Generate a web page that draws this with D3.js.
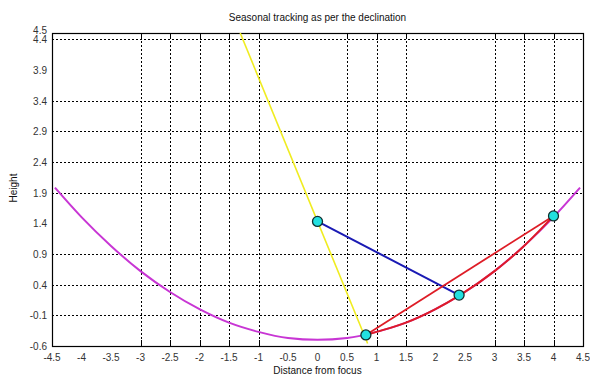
<!DOCTYPE html>
<html>
<head>
<meta charset="utf-8">
<script src="https://cdn.jsdelivr.net/npm/d3@7"></script>
<style>
  body { margin: 0; background: #fff; }
  svg { width: 590px; height: 376px; display: block; }
  text { font-family: "Liberation Sans", Arial, sans-serif; }
</style>
</head>
<body>
<svg></svg>
<script>
// tick labels and grid positions
const xTicks = [-4.5, -4, -3.5, -3, -2.5, -2, -1.5, -1, -0.5, 0, 0.5, 1, 1.5, 2, 2.5, 3, 3.5, 4, 4.5];
const yTicks = [-0.6, -0.1, 0.4, 0.9, 1.4, 1.9, 2.4, 2.9, 3.4, 3.9, 4.4, 4.5];
const xGrid = [-3, -2.5, -2, -1.5, -1, 0.5, 1, 1.5, 3, 3.5, 4];
const yGrid = [-0.1, 0.4, 0.9, 1.9, 2.4, 2.9, 3.4, 4.4];

// reflector (magenta)
const mirrorX = [-4.45, -4, -3.5, -3, -2.5, -2, -1.5, -1, -0.5, 0, 0.5, 1, 1.5, 2, 2.5, 3, 3.5, 4, 4.45];
const mirrorY = [1.98, 1.50, 1.03, 0.62, 0.28, 0.00, -0.22, -0.37, -0.47, -0.50, -0.47, -0.37, -0.22, 0.00, 0.28, 0.62, 1.03, 1.50, 1.98];

// red arc on the reflector and red chord
const arcX = [0.82, 1, 1.5, 2, 2.4, 3, 3.5, 4];
const arcY = [-0.42, -0.37, -0.22, 0.00, 0.22, 0.62, 1.03, 1.52];
const chordX = [0.82, 4];
const chordY = [-0.42, 1.52];

// sun ray (yellow) and blue segment
const rayX = [-1.31, 0.85];
const rayY = [4.5, -0.56];
const blueX = [0, 2.4];
const blueY = [1.43, 0.23];

// marked points
const dotX = [0, 0.82, 2.4, 4];
const dotY = [1.43, -0.42, 0.23, 1.52];

const zip = (xs, ys) => xs.map((x, i) => ({x: x, y: ys[i]}));

function drawGraph() {
    const svg = d3.select("svg");
    svg.selectAll('*').remove();

    const attr_area = {
        left: 52,
        right: 583,
        top: 33,
        bottom: 346
    };

    const scX = d3.scaleLinear().domain([-4.5, 4.5]).range([attr_area.left, attr_area.right]);
    const scY = d3.scaleLinear().domain([-0.6, 4.5]).range([attr_area.bottom, attr_area.top]);

    createAxis(svg, scX, scY, attr_area);
    createLines(svg, scX, scY);
    createTexts(svg, attr_area);
}

function createAxis(svg, scX, scY, attr_area) {
    const grid = svg.append("g")
        .attr("stroke", "#000")
        .attr("stroke-width", 1)
        .attr("stroke-dasharray", "2,2");

    grid.selectAll(".gx")
        .data(xGrid)
        .enter()
        .append("line")
        .attr("x1", d => Math.round(scX(d)) + 0.5)
        .attr("x2", d => Math.round(scX(d)) + 0.5)
        .attr("y1", attr_area.top)
        .attr("y2", attr_area.bottom);

    grid.selectAll(".gy")
        .data(yGrid)
        .enter()
        .append("line")
        .attr("x1", attr_area.left)
        .attr("x2", attr_area.right)
        .attr("y1", d => Math.round(scY(d)) + 0.5)
        .attr("y2", d => Math.round(scY(d)) + 0.5);

    // inner tick marks, top and bottom
    const ticks = svg.append("g").attr("stroke", "#000").attr("stroke-width", 1);
    ticks.selectAll(".tb")
        .data(xGrid)
        .enter()
        .append("line")
        .attr("x1", d => Math.round(scX(d)) + 0.5)
        .attr("x2", d => Math.round(scX(d)) + 0.5)
        .attr("y1", attr_area.bottom)
        .attr("y2", attr_area.bottom - 6);
    ticks.selectAll(".tt")
        .data(xGrid)
        .enter()
        .append("line")
        .attr("x1", d => Math.round(scX(d)) + 0.5)
        .attr("x2", d => Math.round(scX(d)) + 0.5)
        .attr("y1", attr_area.top)
        .attr("y2", attr_area.top + 5);

    // box
    svg.append("rect")
        .attr("x", attr_area.left + 0.5)
        .attr("y", attr_area.top + 0.5)
        .attr("width", attr_area.right - attr_area.left)
        .attr("height", attr_area.bottom - attr_area.top)
        .attr("fill", "none")
        .attr("stroke", "#000")
        .attr("stroke-width", 1.2);

    // tick labels
    svg.append("g")
        .selectAll("text")
        .data(xTicks)
        .enter()
        .append("text")
        .attr("x", d => scX(d))
        .attr("y", attr_area.bottom + 15)
        .attr("text-anchor", "middle")
        .attr("font-size", 10)
        .attr("fill", "#333")
        .text(d => d);

    // 4.5 sits on top of 4.4 as in the source figure
    svg.append("g")
        .selectAll("text")
        .data(yTicks)
        .enter()
        .append("text")
        .attr("x", attr_area.left - 5)
        .attr("y", d => scY(d) + (d === 4.5 ? 1 : 4))
        .attr("text-anchor", "end")
        .attr("font-size", 10)
        .attr("fill", "#333")
        .text(d => d);
}

function createLines(svg, scX, scY) {
    const line = d3.line()
        .x(d => scX(d.x))
        .y(d => scY(d.y))
        .curve(d3.curveMonotoneX);
    const straight = d3.line()
        .x(d => scX(d.x))
        .y(d => scY(d.y));

    const drawPath = (data, gen, color, width) => {
        svg.append("path")
           .datum(data)
           .attr("d", gen)
           .style("fill", "none")
           .style("stroke", color)
           .style("stroke-width", width);
    };

    drawPath(zip(mirrorX, mirrorY), line, "#c836d4", 2);
    drawPath(zip(rayX, rayY), straight, "#f0ec20", 1.6);
    drawPath(zip(blueX, blueY), straight, "#1a1ab4", 2);
    drawPath(zip(arcX, arcY), line, "#de1c26", 2);
    drawPath(zip(chordX, chordY), straight, "#de1c26", 1.8);

    svg.selectAll(".dot")
        .data(zip(dotX, dotY))
        .enter()
        .append("circle")
        .attr("r", 5)
        .attr("cx", d => scX(d.x))
        .attr("cy", d => scY(d.y))
        .style("fill", "#22e0e0")
        .style("stroke", "#103030")
        .style("stroke-width", 1.3);
}

function createTexts(svg, attr_area) {
    const cx = (attr_area.left + attr_area.right) / 2;

    svg.append("text")
        .attr("x", cx)
        .attr("y", 21)
        .attr("text-anchor", "middle")
        .attr("font-size", 10)
        .attr("fill", "#111")
        .text("Seasonal tracking as per the declination");

    svg.append("text")
        .attr("x", cx)
        .attr("y", 374)
        .attr("text-anchor", "middle")
        .attr("font-size", 10)
        .attr("fill", "#111")
        .text("Distance from focus");

    svg.append("text")
        .attr("transform", "translate(17, 188) rotate(-90)")
        .attr("text-anchor", "middle")
        .attr("font-size", 10)
        .attr("fill", "#111")
        .text("Height");
}

drawGraph();
</script>
</body>
</html>
